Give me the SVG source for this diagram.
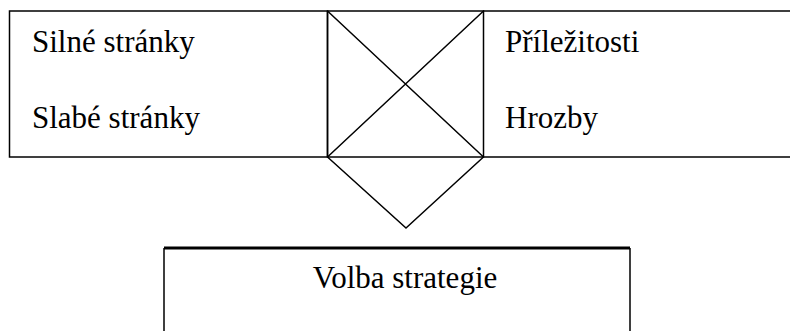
<svg xmlns="http://www.w3.org/2000/svg" width="790" height="331" viewBox="0 0 790 331">
  <style>
    .ln { fill: none; stroke: #000; stroke-width: 1.5; }
    .thick { fill: none; stroke: #000; stroke-width: 3; }
    .lbl { font-family: 'Liberation Serif', 'Times New Roman', 'DejaVu Serif', serif; font-size: 31px; fill: #000; }
  </style>
  <rect width="790" height="331" fill="#fff"/>

  <!-- strengths / weaknesses -->
  <g id="internal">
    <rect class="ln" x="9.5" y="11" width="318" height="146"/>
    <text class="lbl" x="32" y="52">Silné stránky</text>
    <text class="lbl" x="32" y="128">Slabé stránky</text>
  </g>

  <!-- opportunities / threats -->
  <g id="external">
    <path class="ln" d="M483 11 H792 M483 157 H792"/>
    <text class="lbl" x="505" y="52">Příležitosti</text>
    <text class="lbl" x="505" y="128">Hrozby</text>
  </g>

  <!-- crossing square and funnel -->
  <g id="connectors">
    <rect class="ln" x="327.5" y="11" width="156" height="146"/>
    <path class="ln" d="M327.5 11 L483.5 157 M483.5 11 L327.5 157"/>
    <path class="ln" d="M327.5 157 L406 228 L483.5 157"/>
  </g>

  <!-- strategy choice -->
  <g id="strategy">
    <path class="thick" d="M164 248 H630"/>
    <path class="ln" d="M164 248 V333 M630 248 V333"/>
    <text class="lbl" x="405" y="288" text-anchor="middle">Volba strategie</text>
  </g>
</svg>
